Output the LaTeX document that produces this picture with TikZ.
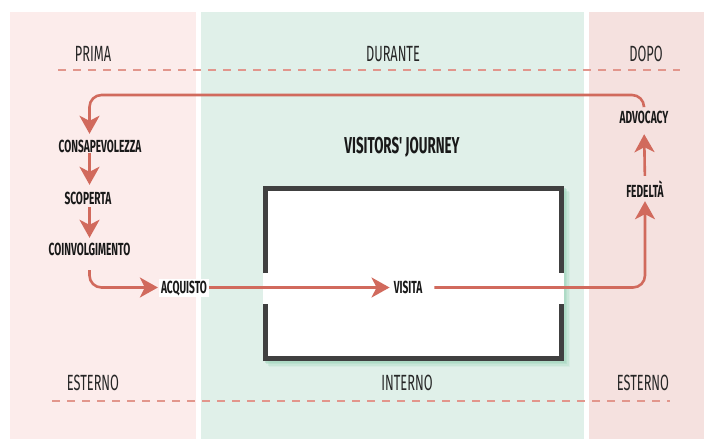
\documentclass[tikz,border=0pt]{standalone}
\usepackage{fontspec}
\newfontfamily\cond{Fira Sans}[FakeStretch=0.58]
\usetikzlibrary{arrows.meta,calc}
\definecolor{pinkA}{RGB}{252,236,235}
\definecolor{mintA}{RGB}{224,240,233}
\definecolor{pinkB}{RGB}{245,225,223}
\definecolor{flowred}{RGB}{209,106,93}
\definecolor{dashred}{RGB}{226,150,140}
\definecolor{frame}{RGB}{64,64,64}
\definecolor{mintshadow}{RGB}{160,215,190}
\tikzset{
  head/.style={font=\cond\fontsize{22}{24}\selectfont, text=black!85},
  lab/.style={font=\cond\bfseries\fontsize{17.5}{19}\selectfont, text=black!90,
    inner sep=0pt, text height=12pt, text depth=0pt},
  title/.style={font=\cond\bfseries\fontsize{23}{25}\selectfont, text=black!90},
  flow/.style={draw=flowred, line width=2.6pt, rounded corners=12pt,
    -{Stealth[length=18pt,width=20pt,inset=5pt]}},
  guide/.style={draw=dashred, line width=1.4pt, dash pattern=on 8pt off 7pt},
}
\begin{document}
\begin{tikzpicture}[x=1pt,y=-1pt]
\useasboundingbox (0,0) rectangle (704,439);
% three phase bands
\fill[pinkA] (10,12) rectangle (196,439);
\fill[mintA] (201,12) rectangle (584,439);
\fill[pinkB] (589,12) rectangle (704,439);

% guide lines
\draw[guide] (58,70) -- (680,70);
\draw[guide] (52,401) -- (670,401);

% phase headings
\node[head] (prima) at (93,54) {PRIMA};
\node[head] (durante) at (393,54) {DURANTE};
\node[head] (dopo) at (646,54) {DOPO};
\node[head] (est1) at (93,383) {ESTERNO};
\node[head] (int) at (407,383) {INTERNO};
\node[head] (est2) at (643,383) {ESTERNO};

\node[title] (vj) at (402,147) {VISITORS' JOURNEY};

% the venue: soft shadow, white interior and a frame open on both sides
\foreach \d/\o in {6/0.15,4.5/0.25,3/0.35,1.5/0.45}{
  \fill[mintshadow, opacity=\o] (263+\d,186+\d) rectangle (564+\d,361+\d);
}
\fill[white] (263,186) rectangle (564,361);
\draw[frame, line width=5pt, line cap=butt]
  (265.5,273) -- (265.5,188.5) -- (561.5,188.5) -- (561.5,273);
\draw[frame, line width=5pt, line cap=butt]
  (265.5,304) -- (265.5,358.5) -- (561.5,358.5) -- (561.5,304);

% stages
\node[lab] (cons) at (100,146) {CONSAPEVOLEZZA};
\node[lab] (scop) at (88,198) {SCOPERTA};
\node[lab] (coin) at (89.5,249) {COINVOLGIMENTO};
\node[lab, fill=white, inner xsep=2pt, inner ysep=3pt] (acq) at (184,287.5) {ACQUISTO};
\node[lab] (vis) at (408,287.5) {VISITA};
\node[lab] (fed) at (645,191) {FEDELTÀ};
\node[lab] (adv) at (644,117) {ADVOCACY};
\coordinate (loopy) at (0,95);

% journey connectors
\draw[flow, shorten <=1pt, shorten >=7pt] (coin.center |- cons.south) -- (coin.center |- scop.north);
\draw[flow, shorten <=3pt, shorten >=5pt] (coin.center |- scop.south) -- (coin.north);
\draw[flow, shorten >=1pt] ($(coin.south)+(0,15)$) |- (acq.west);
\draw[flow, shorten >=4pt] (acq.east) -- (vis.west);
\draw[flow, shorten >=4pt] ($(vis.east)+(12,0)$) -| (fed.south);
\draw[flow, shorten <=9pt, shorten >=11pt] (fed.north) -- (adv.south);
\draw[flow, shorten >=6pt] ($(adv.north)+(0,-5)$) |- (loopy -| coin.center) -- (coin.center |- cons.north);
\end{tikzpicture}
\end{document}
